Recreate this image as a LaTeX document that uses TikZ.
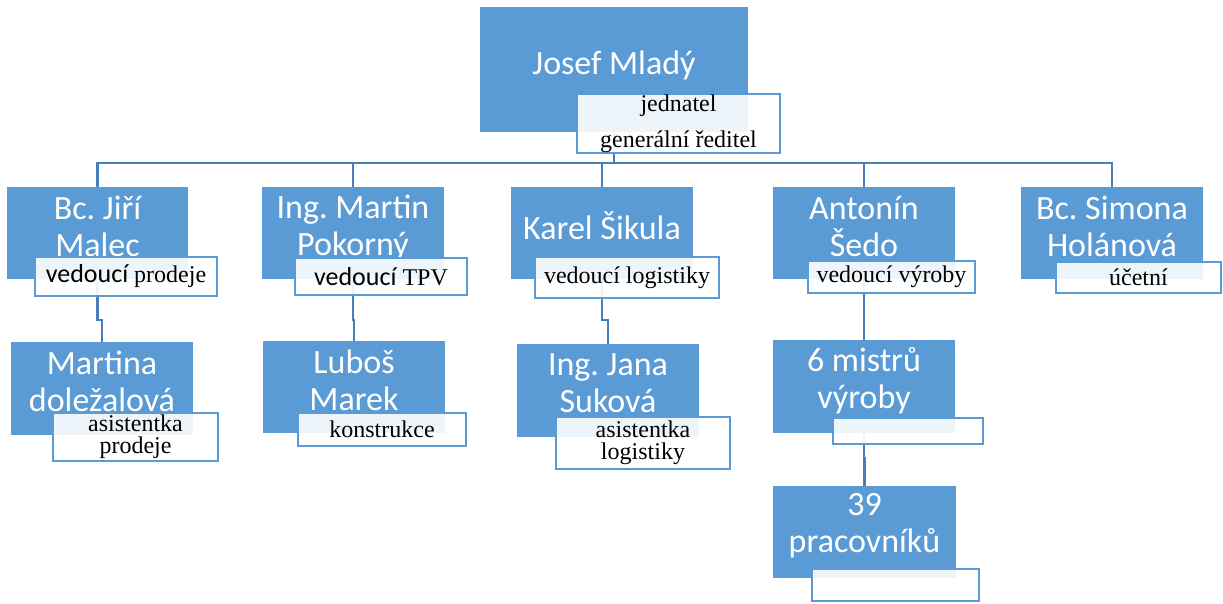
\documentclass[tikz,border=0pt]{standalone}
\usepackage{fontspec}
\setmainfont{Liberation Serif}
\newfontfamily\calibri{Carlito}
\usetikzlibrary{backgrounds}
\definecolor{boxblue}{HTML}{5B9BD5}
\definecolor{linkblue}{HTML}{4A7EBB}
\frenchspacing
\begin{document}
\begin{tikzpicture}[x=0.5pt, y=-0.5pt,
		osoba/.style={fill=boxblue, text=white, anchor=north west, inner sep=0pt, outer sep=0pt,
			align=center, text depth=7pt, font=\calibri\fontsize{17}{18.5}\selectfont},
		popis/.style={draw=boxblue, line width=1pt, fill=white, fill opacity=0.9, text opacity=1,
			anchor=north west, inner sep=0pt, outer sep=0pt, align=center,
			font=\fontsize{12}{11}\selectfont},
		spoj/.style={draw=linkblue, line width=1.1pt}]
	\useasboundingbox (0,0) rectangle (1223,604);
	\def\ved{\calibri\fontsize{13}{11}\selectfont vedoucí}
	
	% reditel
	\node[osoba, minimum width=134pt, minimum height=62.5pt] (mlady) at (480,7) {Josef Mladý};
	\node[popis, minimum width=101.5pt, minimum height=29.5pt, font=\fontsize{12}{18}\selectfont] (mladyP) at (577,94) {jednatel\\generální ředitel};
	
	% vedouci
	\node[osoba, minimum width=90.5pt, minimum height=46pt] (malec) at (7,187) {Bc. Jiří\\Malec};
	\node[osoba, minimum width=91pt, minimum height=46pt, text depth=8pt] (pokorny) at (262,187) {Ing. Martin\\Pokorný};
	\node[osoba, minimum width=91pt, minimum height=46pt] (sikula) at (511,187) {Karel Šikula};
	\node[osoba, minimum width=91pt, minimum height=46pt] (sedo) at (773,187) {Antonín\\Šedo};
	\node[osoba, minimum width=91pt, minimum height=46pt] (holanova) at (1021,187) {Bc. Simona\\Holánová};
	
	\node[popis, minimum width=91pt, minimum height=19.5pt] (malecP) at (35,257) {{\ved} prodeje};
	\node[popis, minimum width=86pt, minimum height=18.5pt] (pokornyP) at (295,258) {{\ved} TPV};
	\node[popis, minimum width=92pt, minimum height=20.5pt] (sikulaP) at (535,257) {vedoucí logistiky};
	\node[popis, minimum width=83.5pt, minimum height=16pt] (sedoP) at (808,261) {vedoucí výroby};
	\node[popis, minimum width=82.5pt, minimum height=15.5pt] (holanovaP) at (1056,262) {účetní};
	
	% podrizeni
	\node[osoba, minimum width=91pt, minimum height=46.5pt] (dolezalova) at (11,342) {Martina\\doležalová};
	\node[osoba, minimum width=91pt, minimum height=46pt] (marek) at (263,341) {Luboš\\Marek};
	\node[osoba, minimum width=91pt, minimum height=46.5pt] (sukova) at (517,344) {Ing. Jana\\Suková};
	\node[osoba, minimum width=91pt, minimum height=46.5pt, text depth=8.5pt] (mistri) at (773,340) {6 mistrů\\výroby};
	\node[osoba, minimum width=91.5pt, minimum height=46pt, text depth=9pt] (pracovnici) at (773,486) {39\\pracovníků};
	
	\node[popis, minimum width=82.5pt, minimum height=24pt] (dolezalovaP) at (53,413) {asistentka\\prodeje};
	\node[popis, minimum width=84pt, minimum height=16.5pt] (marekP) at (298,413) {konstrukce};
	\node[popis, minimum width=87pt, minimum height=26pt] (sukovaP) at (556,417) {asistentka\\logistiky};
	\node[popis, minimum width=75pt, minimum height=13pt] (mistriP) at (833,418) {};
	\node[popis, minimum width=83.5pt, minimum height=16pt] (pracovniciP) at (812,569) {};
	
	% spojnice
	\begin{scope}[on background layer]
		\foreach \n in {malec,pokorny,sikula,sedo,holanova}
			\draw[spoj] (mlady.south) -- ++(0,31) -| (\n.north);
		\draw[spoj] (malec.south) -- ++(0,41) -| (dolezalova.north);
		\draw[spoj] (pokorny.south) -- ++(0,41) -| (marek.north);
		\draw[spoj] (sikula.south) -- ++(0,41) -| (sukova.north);
		\draw[spoj] (sedo.south) -- ++(0,30) -| (mistri.north);
		\draw[spoj] (mistri.south) -- ++(0,25) -| (pracovnici.north);
	\end{scope}
\end{tikzpicture}
\end{document}
